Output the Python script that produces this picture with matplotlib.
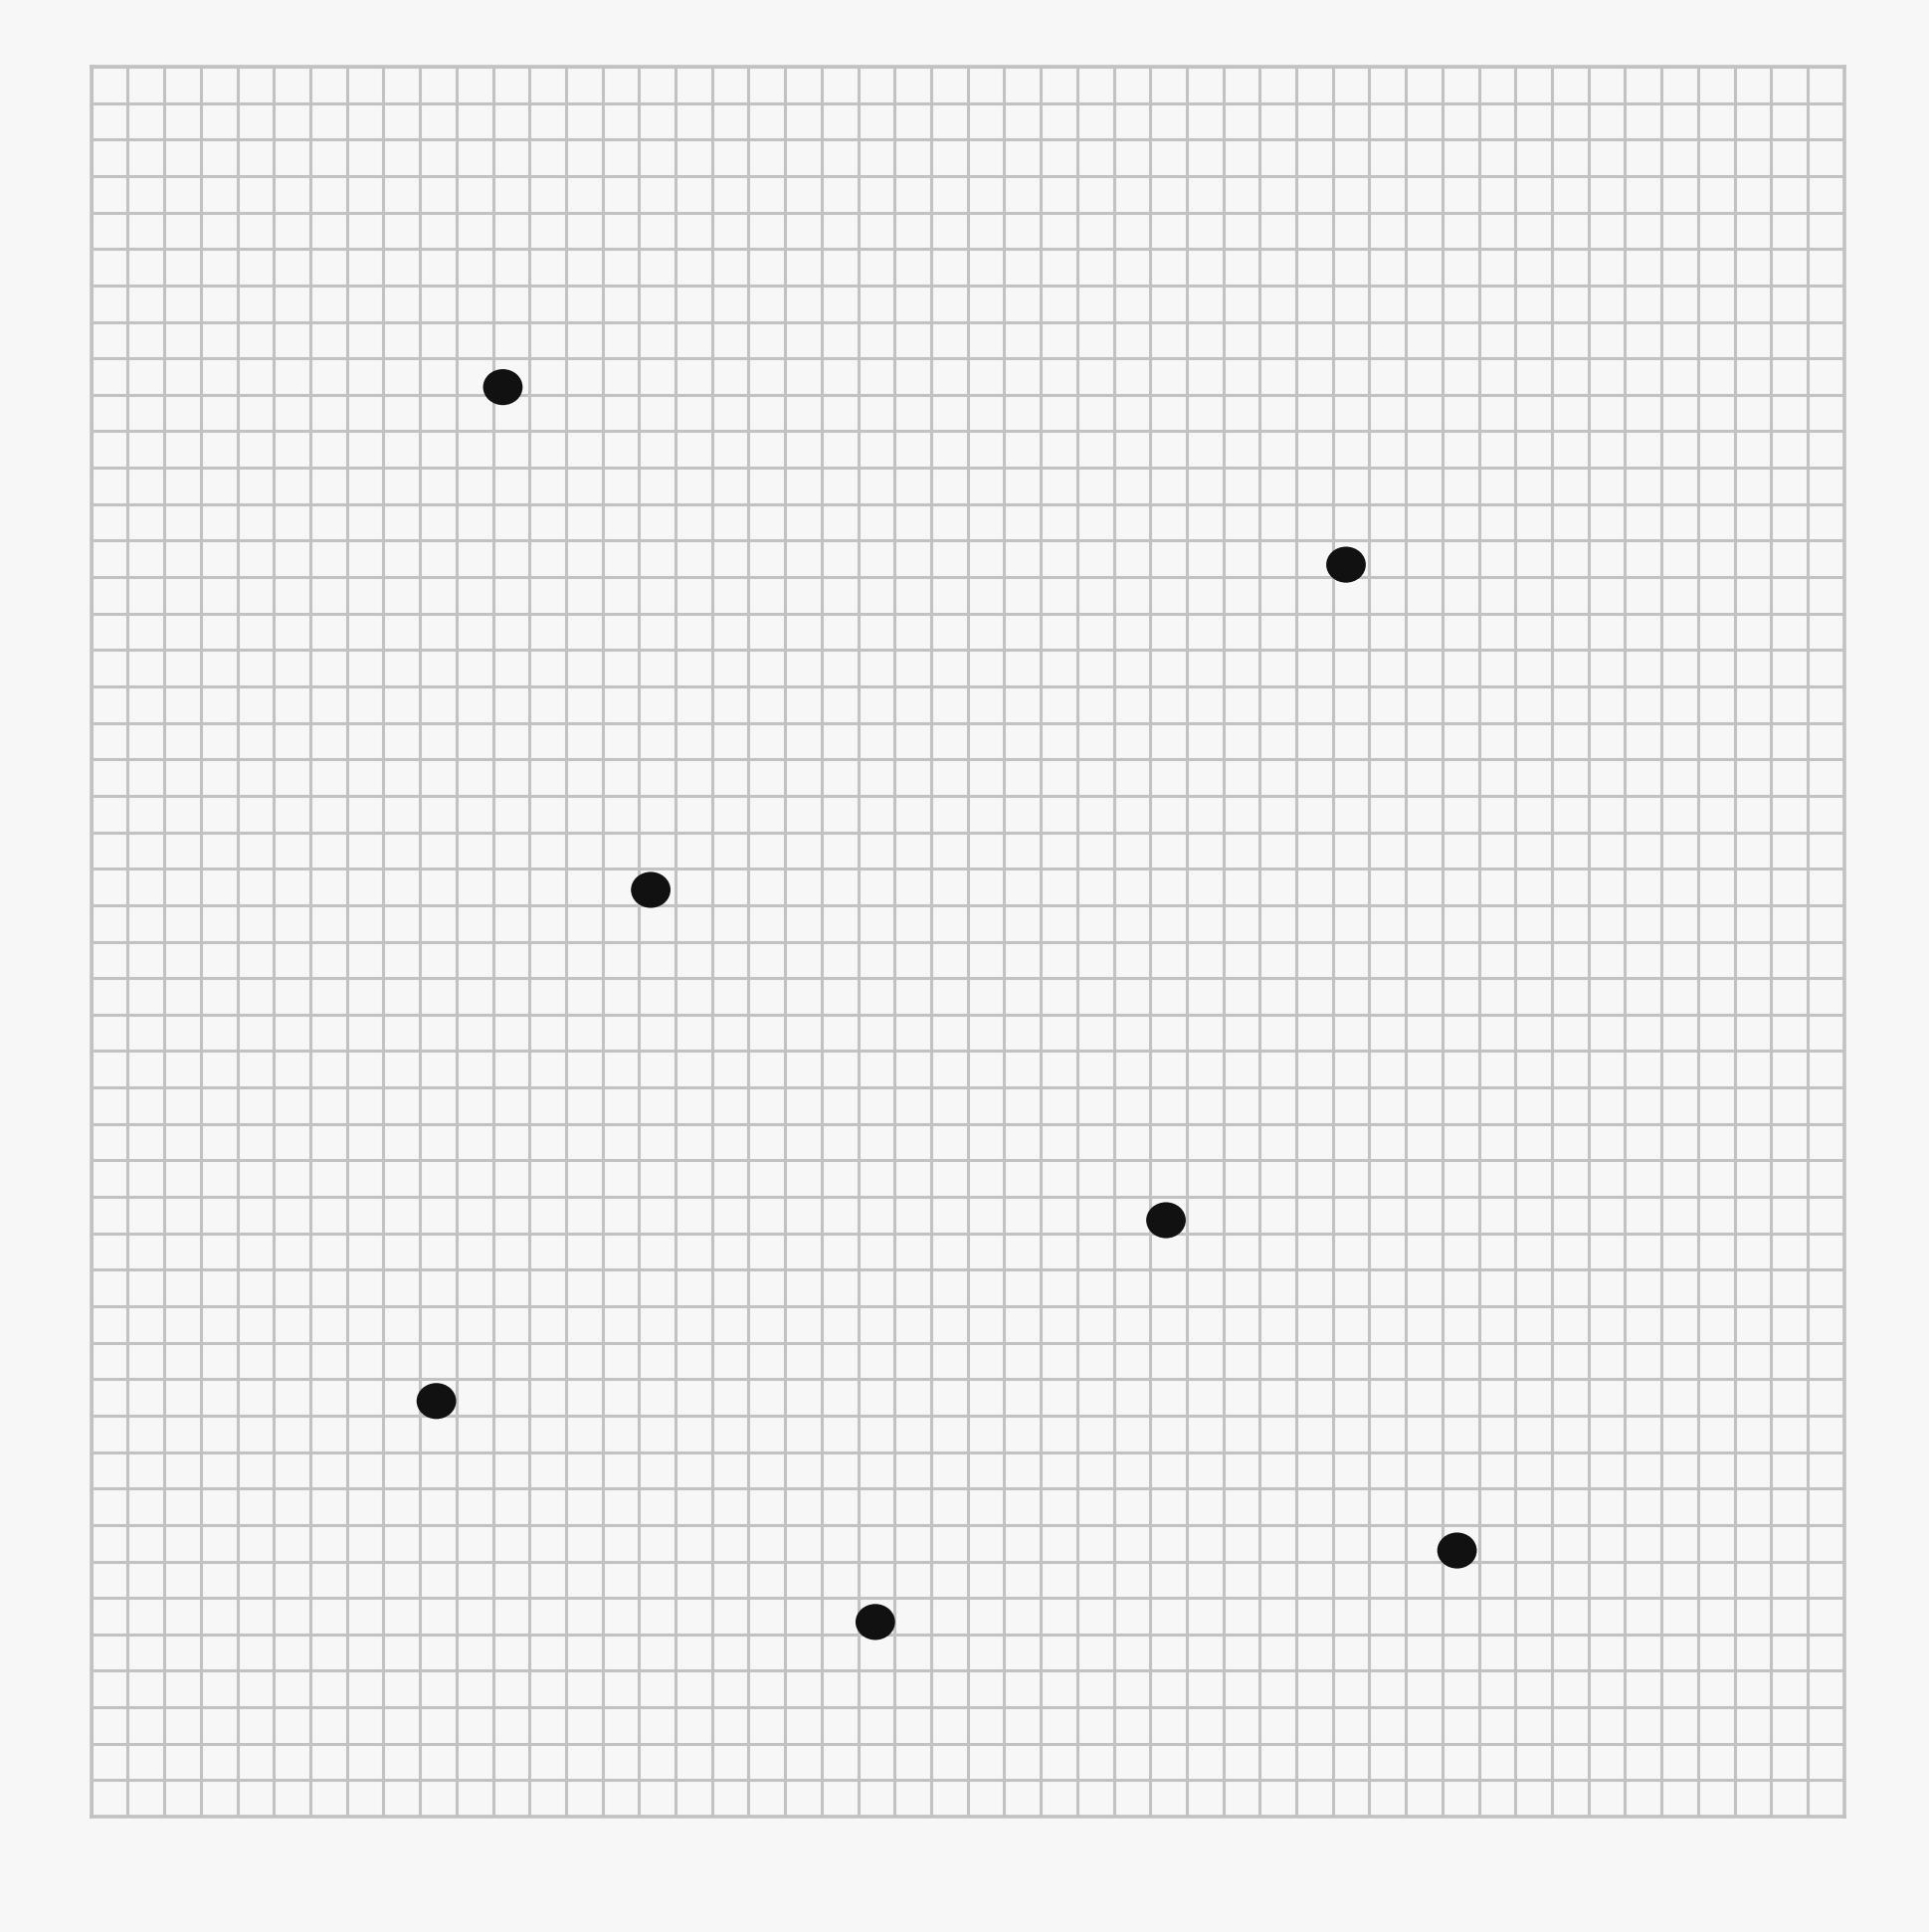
import numpy as np
import matplotlib.pyplot as plt
from matplotlib.path import Path
from matplotlib.transforms import Affine2D

# ---- data (grid units, origin bottom-left) ----
x_vals = [11.27, 34.36, 15.32, 29.43, 9.45, 37.40, 21.47]
y_vals = [39.21, 34.34, 25.42, 16.36, 11.40, 7.30, 5.34]

n_cells = 48
bg = "#f7f7f7"
grid_col = "#c2c2c2"

# slightly wide dot, like a hand-drawn blob
blob = Path.unit_circle().transformed(Affine2D().scale(1.1, 1.0))

fig = plt.figure(figsize=(19.40, 19.42), dpi=100, facecolor=bg)
ax = fig.add_axes([0.0473, 0.0597, 0.9082, 0.9058])
ax.set_facecolor(bg)

ax.set_xlim(0, n_cells)
ax.set_ylim(0, n_cells)
ax.set_xticks(np.arange(0, n_cells + 1))
ax.set_yticks(np.arange(0, n_cells + 1))
ax.tick_params(length=0, labelbottom=False, labelleft=False)
ax.grid(True, color=grid_col, linewidth=2.2)
ax.set_axisbelow(True)
for sp in ax.spines.values():
    sp.set_color(grid_col)
    sp.set_linewidth(2.6)

ax.scatter(x_vals, y_vals, s=820, marker=blob, color="#111111", edgecolors="none", zorder=3)

fig.savefig("out.png", dpi=100, facecolor=bg)
